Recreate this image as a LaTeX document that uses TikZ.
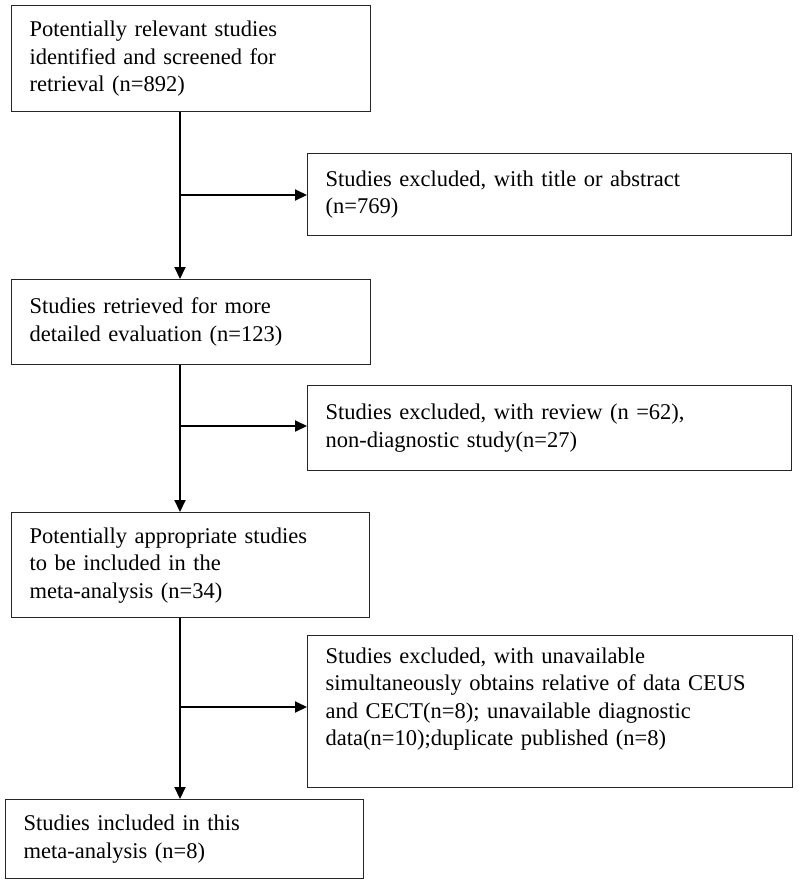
\documentclass[tikz,border=0pt]{standalone}
\usepackage{fontspec}
\setmainfont{Liberation Serif}
\usepackage{tikz}
\usetikzlibrary{arrows, arrows.meta}
\usetikzlibrary{positioning}
\usetikzlibrary{calc}

\begin{document}
\begin{tikzpicture}[x=1pt, y=-1pt,
	box/.style={draw, line width=1.4pt, draw=black!85, anchor=north west, align=left, inner xsep=18pt, inner ysep=0pt, font=\fontsize{22.5}{27.5}\selectfont},
	link/.style={line width=2pt, -{Triangle[length=12pt, width=11pt]}}]
			\useasboundingbox (0,0) rectangle (800,884);
			\node[box, text width=323pt, minimum height=106pt] (B1) at (11,5) {Potentially relevant studies\\identified and screened for\\retrieval (n=892)};
			\node[box, text width=448pt, minimum height=82pt] (B2) at (307,153) {Studies excluded, with title or abstract\\(n=769)};
			\node[box, text width=323pt, minimum height=85pt] (B3) at (11,279) {Studies retrieved for more\\detailed evaluation (n=123)};
			\node[box, text width=448pt, minimum height=85pt] (B4) at (307,385) {Studies excluded, with review (n =62),\\non-diagnostic study(n=27)};
			\node[box, text width=322pt, minimum height=105pt] (B5) at (11,512) {Potentially appropriate studies\\to be included in the\\meta-analysis (n=34)};
			\node[box, text width=449pt, minimum height=152pt] (B6) at (307,635) {Studies excluded, with unavailable\\simultaneously obtains relative of data CEUS\\and CECT(n=8); unavailable diagnostic\\data(n=10);duplicate published (n=8)\\[-6pt]\strut};
			\node[box, text width=322pt, minimum height=79pt] (B7) at (5,799) {Studies included in this\\meta-analysis (n=8)};
			\foreach \from/\side/\to/\y[count=\iJoint] in {B1/B2/B3/195, B3/B4/B5/426, B5/B6/B7/707}
			{
				\coordinate (J\iJoint) at (180,\y);
				\draw[link] (\from.south -| J\iJoint) -- (\to.north -| J\iJoint);
				\draw[link] (J\iJoint) -- (\side.west |- J\iJoint);
			}
		\end{tikzpicture}
\end{document}
